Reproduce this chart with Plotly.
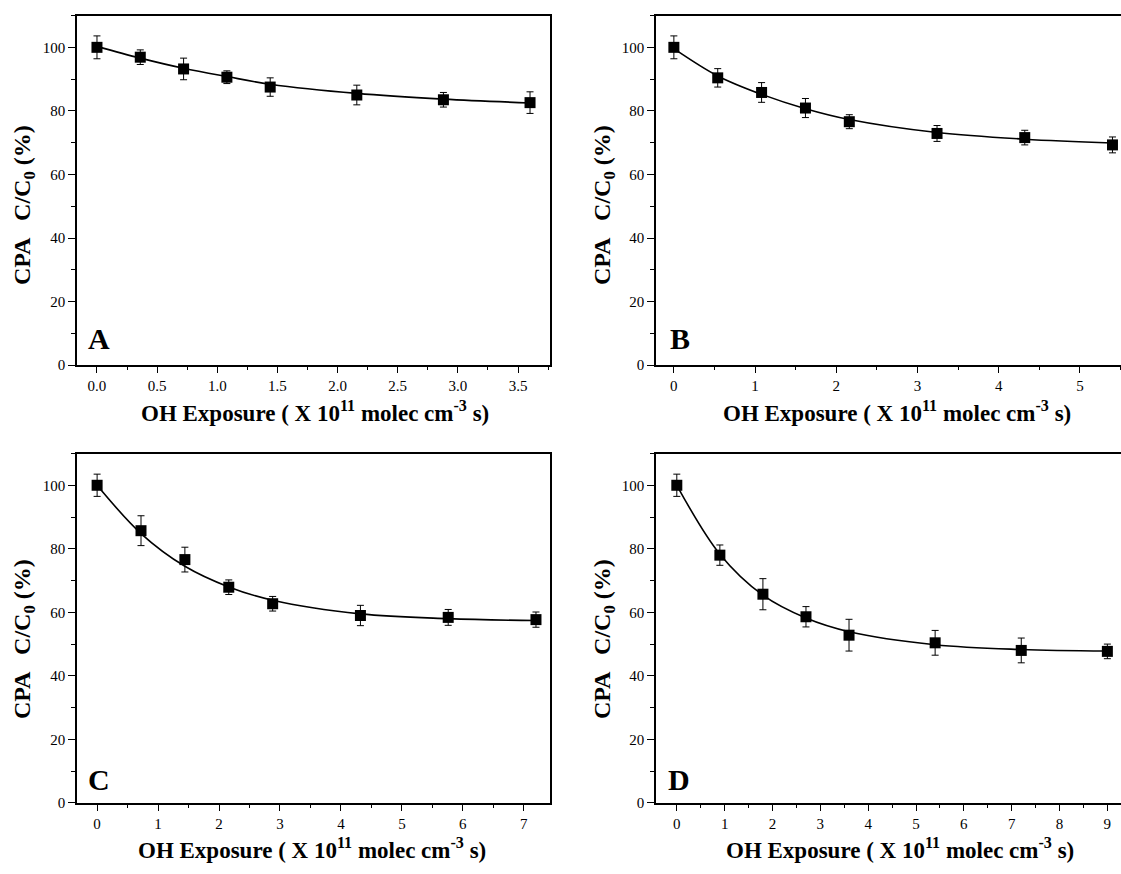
import plotly.graph_objects as go

W, H = 1121, 874

# ---- data ----
A_x = [0, 0.36, 0.72, 1.08, 1.44, 2.16, 2.88, 3.6]
A_y = [100, 96.9, 93.2, 90.6, 87.5, 85.0, 83.5, 82.6]
A_err = [3.6, 2.3, 3.4, 2.0, 2.9, 3.1, 2.3, 3.4]
A_fit = [100.3, 96.6, 93.4, 90.8, 88.4, 85.5, 83.7, 82.5]

B_x = [0, 0.54, 1.08, 1.62, 2.16, 3.24, 4.32, 5.4]
B_y = [100, 90.4, 85.8, 80.9, 76.6, 72.9, 71.6, 69.3]
B_err = [3.6, 2.9, 3.1, 3.0, 2.2, 2.5, 2.3, 2.5]
B_fit = [99.6, 91.0, 85.2, 80.7, 77.3, 73.2, 71.1, 69.9]

C_x = [0, 0.72, 1.44, 2.16, 2.88, 4.32, 5.76, 7.2]
C_y = [100, 85.7, 76.6, 67.9, 62.7, 59.0, 58.4, 57.7]
C_err = [3.5, 4.7, 3.9, 2.3, 2.3, 3.2, 2.5, 2.4]
C_fit = [100, 84.8, 74.5, 68.0, 63.8, 59.5, 58.0, 57.4]

D_x = [0, 0.9, 1.8, 2.7, 3.6, 5.4, 7.2, 9.0]
D_y = [100, 78.0, 65.7, 58.6, 52.8, 50.4, 48.0, 47.7]
D_err = [3.5, 3.2, 4.9, 3.2, 5.0, 3.9, 3.9, 2.3]
D_fit = [100, 78.3, 65.4, 58.2, 53.9, 49.8, 48.3, 47.8]

panel_letters = ["A", "B", "C", "D"]
y_ticks = [0, 20, 40, 60, 80, 100]
x_title = "OH Exposure ( X 10<sup>11</sup> molec cm<sup>-3</sup> s)"
y_title = "CPA   C/C<sub>0</sub> (%)"

SERIF = "Liberation Serif, Times New Roman, Times, serif"

def px_x(p):
    return p / W

def px_y(p):
    return 1 - p / H

panels = [
    dict(x=A_x, y=A_y, e=A_err, f=A_fit, xa="x", ya="y",
         xdom=[px_x(77), px_x(550)], ydom=[px_y(368.5), px_y(15.7)],
         xrange=[-0.166, 3.766], dtick=0.5, minor=0.25, fmt=".1f", mirror_y=True),
    dict(x=B_x, y=B_y, e=B_err, f=B_fit, xa="x2", ya="y2",
         xdom=[px_x(656), 1.0], ydom=[px_y(368.5), px_y(15.7)],
         xrange=[-0.22, 5.505], dtick=1, minor=0.5, fmt="d", mirror_y=False),
    dict(x=C_x, y=C_y, e=C_err, f=C_fit, xa="x3", ya="y3",
         xdom=[px_x(77), px_x(550)], ydom=[px_y(810.3), px_y(457.7)],
         xrange=[-0.33, 7.43], dtick=1, minor=0.5, fmt="d", mirror_y=True),
    dict(x=D_x, y=D_y, e=D_err, f=D_fit, xa="x4", ya="y4",
         xdom=[px_x(656), 1.0], ydom=[px_y(810.3), px_y(457.7)],
         xrange=[-0.435, 9.285], dtick=1, minor=0.5, fmt="d", mirror_y=False),
]

fig = go.Figure()
layout = dict(
    width=W, height=H,
    margin=dict(l=0, r=0, t=0, b=0),
    paper_bgcolor="white", plot_bgcolor="white",
    showlegend=False,
    font=dict(family=SERIF, color="black"),
)

for i, p in enumerate(panels):
    fig.add_trace(go.Scatter(
        x=p["x"], y=p["f"], mode="lines",
        line=dict(color="black", width=1.6, shape="spline", smoothing=1.0),
        xaxis=p["xa"], yaxis=p["ya"], hoverinfo="skip", cliponaxis=False))
    fig.add_trace(go.Scatter(
        x=p["x"], y=p["y"], mode="markers",
        marker=dict(symbol="square", size=11, color="black"),
        error_y=dict(type="data", array=p["e"], visible=True,
                     color="black", thickness=1, width=3.5),
        xaxis=p["xa"], yaxis=p["ya"], cliponaxis=False))
    xkey = "xaxis" if i == 0 else f"xaxis{i+1}"
    ykey = "yaxis" if i == 0 else f"yaxis{i+1}"
    layout[xkey] = dict(
        domain=p["xdom"], anchor=p["ya"], range=p["xrange"],
        tickmode="linear", tick0=0, dtick=p["dtick"], tickformat=p["fmt"],
        ticks="outside", ticklen=6, tickwidth=1.3, tickcolor="black",
        minor=dict(ticks="outside", ticklen=3.5, tickwidth=1.1, tickcolor="black",
                   tickmode="linear", tick0=0, dtick=p["minor"]),
        showline=True, linecolor="black", linewidth=1.6, mirror=True,
        showgrid=False, zeroline=False,
        tickfont=dict(family=SERIF, size=15, color="black"),
    )
    layout[ykey] = dict(
        domain=p["ydom"], anchor=p["xa"], range=[0, 110],
        tickmode="array", tickvals=y_ticks,
        ticks="outside", ticklen=7, tickwidth=1.3, tickcolor="black",
        minor=dict(ticks="outside", ticklen=4, tickwidth=1.1, tickcolor="black",
                   tickmode="linear", tick0=0, dtick=10),
        showline=True, linecolor="black", linewidth=1.6, mirror=p["mirror_y"],
        showgrid=False, zeroline=False,
        tickfont=dict(family=SERIF, size=15, color="black"),
    )

fig.update_layout(**layout)

# axis titles and panel letters as annotations (paper coordinates)
xt_pos = [(315, 415), (897, 415), (312, 856), (900, 856)]
yt_pos = [(24, 207), (604, 207), (24, 645), (604, 645)]
letter_pos = [(86, 360), (668, 360), (86, 805), (666, 805)]

for (xc, yc) in xt_pos:
    fig.add_annotation(x=px_x(xc), y=px_y(yc), xref="paper", yref="paper",
                       text=f"<b>{x_title}</b>", showarrow=False,
                       xanchor="center", yanchor="middle",
                       font=dict(family=SERIF, size=23, color="black"))
for (xc, yc) in yt_pos:
    fig.add_annotation(x=px_x(xc), y=px_y(yc), xref="paper", yref="paper",
                       text=f"<b>{y_title}</b>", showarrow=False, textangle=-90,
                       xanchor="center", yanchor="middle",
                       font=dict(family=SERIF, size=24, color="black"))
for lt, (xc, yc) in zip(panel_letters, letter_pos):
    fig.add_annotation(x=px_x(xc), y=px_y(yc), xref="paper", yref="paper",
                       text=f"<b>{lt}</b>", showarrow=False,
                       xanchor="left", yanchor="bottom",
                       font=dict(family=SERIF, size=30, color="black"))

fig.write_html(
    "out.html",
    config={"displayModeBar": False},
    post_script="document.body.style.margin='0';document.body.style.overflow='hidden';",
)
